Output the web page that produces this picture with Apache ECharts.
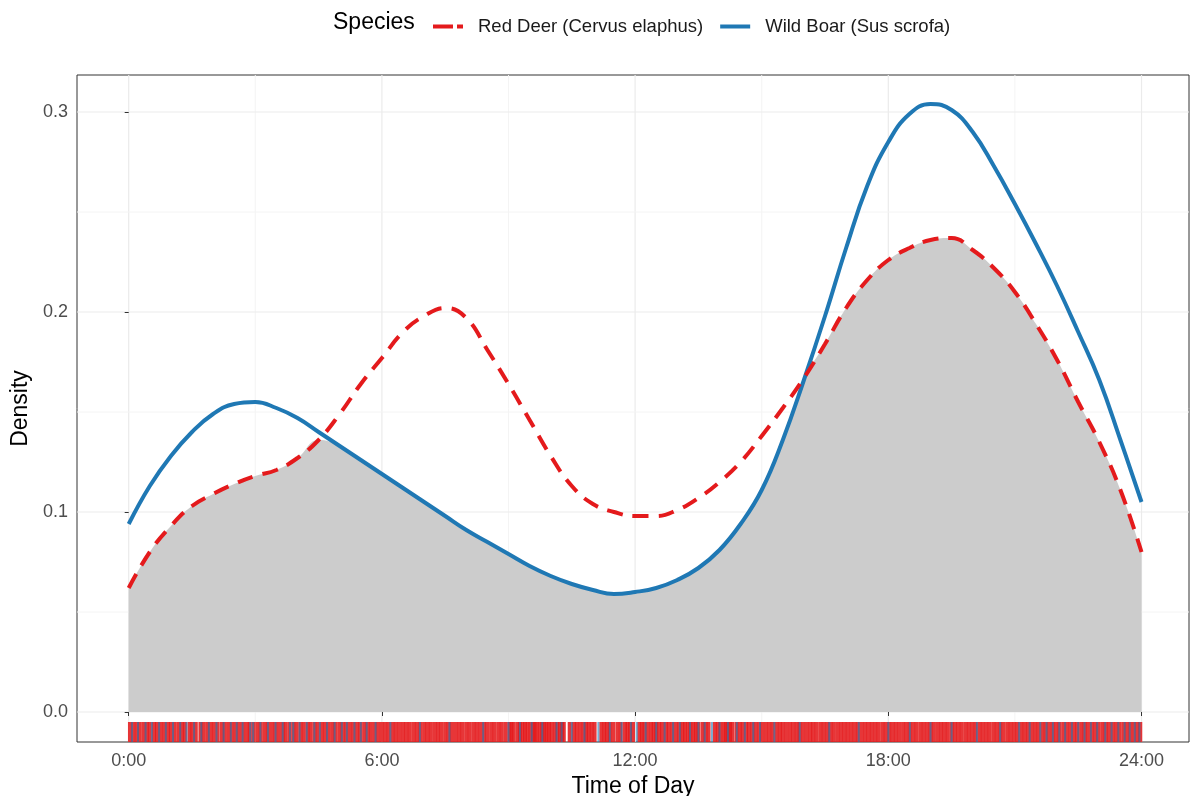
<!DOCTYPE html>
<html>
<head>
<meta charset="utf-8">
<script src="https://cdn.jsdelivr.net/npm/echarts@6/dist/echarts.min.js"></script>
<style>
html, body { margin: 0; padding: 0; background: #fff; }
#chart { width: 1191px; height: 796px; }
</style>
</head>
<body>
<div id="chart"></div>
<script>
// hour of day, sampled every half hour
const hours = [0, 0.5, 1, 1.5, 2, 2.5, 3, 3.5, 4, 4.5, 5, 5.5, 6, 6.5, 7, 7.5, 8, 8.5, 9, 9.5, 10, 10.5, 11, 11.5,
  12, 12.5, 13, 13.5, 14, 14.5, 15, 15.5, 16, 16.5, 17, 17.5, 18, 18.5, 19, 19.5, 20, 20.5, 21, 21.5, 22, 22.5, 23, 23.5, 24]

// density
const deer = [0.062, 0.080, 0.093, 0.103, 0.109, 0.114, 0.118, 0.121, 0.127, 0.136, 0.149, 0.164, 0.177, 0.190, 0.198, 0.202,
  0.197, 0.181, 0.164, 0.146, 0.128, 0.113, 0.104, 0.100, 0.098, 0.098, 0.101, 0.107, 0.115, 0.125, 0.138, 0.152,
  0.167, 0.184, 0.202, 0.216, 0.226, 0.232, 0.236, 0.237, 0.231, 0.222, 0.210, 0.194, 0.176, 0.155, 0.135, 0.111, 0.080]
const boar = [0.094, 0.113, 0.128, 0.140, 0.149, 0.154, 0.155, 0.152, 0.147, 0.140, 0.133, 0.126, 0.119, 0.112, 0.105, 0.098,
  0.091, 0.085, 0.079, 0.073, 0.068, 0.064, 0.061, 0.059, 0.060, 0.062, 0.066, 0.072, 0.081, 0.094, 0.111, 0.136,
  0.166, 0.198, 0.232, 0.263, 0.285, 0.299, 0.304, 0.301, 0.290, 0.273, 0.254, 0.234, 0.213, 0.190, 0.166, 0.136, 0.105]

// observation times in the rug (estimated)
const deerRug = [0.03, 0.11, 0.19, 0.26, 0.35, 0.43, 0.5, 0.6, 0.67, 0.76, 0.84, 0.93, 1.0, 1.09, 1.18, 1.26, 1.33, 1.44, 1.51, 1.59,
  1.7, 1.77, 1.86, 1.94, 2.02, 2.11, 2.21, 2.28, 2.37, 2.45, 2.54, 2.62, 2.71, 2.8, 2.87, 2.96,
  3.05, 3.13, 3.22, 3.3, 3.39, 3.47, 3.56, 3.65, 3.72, 3.81, 3.9, 3.98, 4.07, 4.15, 4.24, 4.31, 4.4, 4.48, 4.57, 4.65, 4.73,
  4.82, 4.9, 4.99, 5.07, 5.15, 5.24, 5.32, 5.41, 5.49, 5.58, 5.66, 5.74, 5.83, 5.91,
  6.0, 6.08, 6.16, 6.25, 6.33, 6.41, 6.5, 6.58, 6.66, 6.75, 6.83, 6.91, 7.0, 7.08, 7.16, 7.25, 7.33, 7.41, 7.5, 7.58, 7.66,
  7.75, 7.83, 7.91, 8.0, 8.08, 8.17, 8.25, 8.33, 8.42, 8.5, 8.59, 8.67, 8.76, 8.84, 8.93,
  9.02, 9.07, 9.12, 9.21, 9.27, 9.33, 9.39, 9.45, 9.52, 9.58, 9.62, 9.67, 9.74, 9.8, 9.85, 9.9, 9.96, 10.02, 10.1, 10.16,
  10.22, 10.27, 10.31, 10.45, 10.55, 10.62, 10.7, 10.78, 10.84, 10.9, 10.97, 11.04, 11.2, 11.27, 11.33, 11.4, 11.48,
  11.58, 11.66, 11.76, 11.82, 11.88, 11.95, 12.1, 12.16, 12.22, 12.3, 12.38, 12.44, 12.5, 12.57, 12.64, 12.73, 12.8, 12.88, 12.97,
  13.05, 13.12, 13.18, 13.25, 13.31, 13.38, 13.44, 13.5, 13.6, 13.67, 13.74, 13.89, 13.96, 14.02, 14.1, 14.15, 14.2, 14.25,
  14.3, 14.4, 14.48, 14.55, 14.63, 14.7, 14.78, 14.86, 14.94, 15.01,
  15.1, 15.18, 15.26, 15.35, 15.43, 15.5, 15.58, 15.67, 15.75, 15.83, 15.9, 15.98, 16.07, 16.15, 16.22, 16.3, 16.39,
  16.47, 16.55, 16.63, 16.71, 16.8, 16.88, 16.96, 17.04, 17.12, 17.2, 17.28, 17.37, 17.45, 17.53, 17.61, 17.69, 17.77, 17.86, 17.94,
  18.02, 18.1, 18.18, 18.26, 18.35, 18.43, 18.51, 18.59, 18.67, 18.76, 18.84, 18.92, 19.0, 19.08, 19.17, 19.25, 19.33, 19.41,
  19.5, 19.58, 19.66, 19.74, 19.83, 19.91, 19.99, 20.07, 20.16, 20.24, 20.32, 20.4, 20.49, 20.57, 20.65, 20.73, 20.82, 20.9, 20.98,
  21.06, 21.15, 21.23, 21.31, 21.4, 21.48, 21.56, 21.65, 21.73, 21.81, 21.9, 21.98, 22.06, 22.15, 22.23, 22.31, 22.4, 22.48,
  22.57, 22.65, 22.73, 22.82, 22.9, 22.98, 23.07, 23.15, 23.23, 23.32, 23.4, 23.48, 23.57, 23.65, 23.73, 23.82, 23.9, 23.97]
const boarRug = [0.08, 0.22, 0.4, 0.55, 0.72, 0.88, 1.05, 1.22, 1.37, 1.55, 1.72, 1.9, 2.08, 2.25, 2.42, 2.56, 2.7, 2.88, 2.95,
  3.12, 3.3, 3.48, 3.65, 3.82, 3.9, 4.05, 4.22, 4.4, 4.53, 4.7, 4.88, 5.05, 5.17, 5.35, 5.5, 5.64, 5.85,
  6.2, 6.9, 7.6, 8.4, 9.0, 9.27, 9.55, 9.8, 10.14, 10.26, 10.5, 10.8, 11.13, 11.4, 11.68, 11.9,
  12.04, 12.25, 12.5, 12.7, 12.9, 13.06, 13.3, 13.5, 13.65, 13.82, 14.0, 14.2, 14.41, 14.6, 14.8, 14.96,
  15.3, 15.9, 16.6, 17.3, 18.0, 18.51, 19.0, 19.5, 20.1, 20.65,
  21.1, 21.35, 21.6, 21.75, 21.9, 22.05, 22.19, 22.35, 22.5, 22.65, 22.8, 22.95, 23.14, 23.29, 23.45, 23.6, 23.72, 23.84, 23.95]

const xTicks = [0, 6, 12, 18, 24]
const yTicks = [0, 0.1, 0.2, 0.3]
const xGrid = [0, 3, 6, 9, 12, 15, 18, 21, 24]
const yGrid = [0, 0.05, 0.1, 0.15, 0.2, 0.25, 0.3]

const RED = '#E41A1C'
const BLUE = '#1F78B4'
const FONT = '"Liberation Sans", Arial, sans-serif'

const overlap = hours.map((h, i) => [h, Math.min(deer[i], boar[i])])

function gridLine (vertical) {
  return function (params, api) {
    let cs = params.coordSys
    let v = api.value(vertical ? 0 : 1)
    let major = vertical ? v % 6 === 0 : Math.abs(v * 10 - Math.round(v * 10)) < 1e-6
    let style = { stroke: major ? '#EBEBEB' : '#F4F4F4', lineWidth: major ? 1.2 : 1 }
    if (vertical) {
      let p = api.coord([v, 0])
      return { type: 'line', shape: { x1: p[0], y1: cs.y, x2: p[0], y2: cs.y + cs.height }, style: style }
    }
    let p = api.coord([0, v])
    return { type: 'line', shape: { x1: cs.x, y1: p[1], x2: cs.x + cs.width, y2: p[1] }, style: style }
  }
}

function rug (color, w, op) {
  return function (params, api) {
    let top = api.coord([api.value(0), -0.005])
    let bot = api.coord([api.value(0), -0.015])
    return {
      type: 'rect',
      shape: { x: top[0] - w / 2, y: top[1], width: w, height: bot[1] - top[1] },
      style: { fill: color, opacity: op }
    }
  }
}

let chart = echarts.init(document.getElementById('chart'))
let option = {
  animation: false,
  backgroundColor: '#fff',
  textStyle: { fontFamily: FONT },
  grid: {
    left: 77, right: 2, top: 75, bottom: 54,
    outerBoundsMode: 'none',
    show: true, borderColor: '#333', borderWidth: 1, backgroundColor: 'transparent'
  },
  graphic: [{
    type: 'text', left: 333, top: 11,
    style: { text: 'Species', fontSize: 23, fill: '#000', fontFamily: FONT }
  }],
  legend: {
    left: 428, top: 12,
    data: [
      { name: 'Red Deer (Cervus elaphus)', icon: 'path://M0,0H20V4H0Z M24,0H30V4H24Z' },
      { name: 'Wild Boar (Sus scrofa)', icon: 'rect' }
    ],
    itemWidth: 30, itemHeight: 4, itemGap: 17,
    textStyle: { fontSize: 18.5, color: '#1A1A1A', fontFamily: FONT, padding: [0, 0, 0, 10] }
  },
  xAxis: {
    type: 'value', min: -1.225, max: 25.125,
    name: 'Time of Day', nameLocation: 'middle', nameGap: 32,
    nameTextStyle: { fontSize: 23, color: '#000', fontFamily: FONT },
    axisLine: { show: false },
    axisTick: { show: true, customValues: xTicks, length: 4, lineStyle: { color: '#333' } },
    axisLabel: {
      customValues: xTicks, margin: 10, fontSize: 18, color: '#4D4D4D', fontFamily: FONT,
      formatter: v => v + ':00'
    },
    splitLine: { show: false }
  },
  yAxis: {
    type: 'value', min: -0.015, max: 0.3185,
    name: 'Density', nameLocation: 'middle', nameGap: 42, nameRotate: 90,
    nameTextStyle: { fontSize: 23, color: '#000', fontFamily: FONT },
    axisLine: { show: false },
    axisTick: { show: true, customValues: yTicks, length: 4, lineStyle: { color: '#333' } },
    axisLabel: {
      customValues: yTicks, margin: 9, fontSize: 18, color: '#4D4D4D', fontFamily: FONT,
      formatter: v => v.toFixed(1)
    },
    splitLine: { show: false }
  },
  series: [
    {
      type: 'custom', silent: true, z: 0,
      data: xGrid.map(v => [v, 0]),
      renderItem: gridLine(true)
    },
    {
      type: 'custom', silent: true, z: 0,
      data: yGrid.map(v => [0, v]),
      renderItem: gridLine(false)
    },
    {
      type: 'line', silent: true, z: 1,
      data: overlap, smooth: 0.45, symbol: 'none',
      lineStyle: { width: 0, opacity: 0 },
      areaStyle: { color: '#CCCCCC', opacity: 1 }
    },
    {
      type: 'custom', silent: true, z: 2,
      data: deerRug.map(t => [t, -0.01]),
      renderItem: rug(RED, 4, 0.88)
    },
    {
      type: 'custom', silent: true, z: 2,
      data: boarRug.map(t => [t, -0.01]),
      renderItem: rug(BLUE, 2, 0.6)
    },
    {
      name: 'Red Deer (Cervus elaphus)',
      type: 'line', z: 4,
      data: hours.map((h, i) => [h, deer[i]]), smooth: 0.45, symbol: 'none',
      color: RED,
      lineStyle: { color: RED, width: 4, type: [16, 10], cap: 'butt' }
    },
    {
      name: 'Wild Boar (Sus scrofa)',
      type: 'line', z: 3,
      data: hours.map((h, i) => [h, boar[i]]), smooth: 0.45, symbol: 'none',
      color: BLUE,
      lineStyle: { color: BLUE, width: 4 }
    }
  ]
}
chart.setOption(option)
</script>
</body>
</html>
